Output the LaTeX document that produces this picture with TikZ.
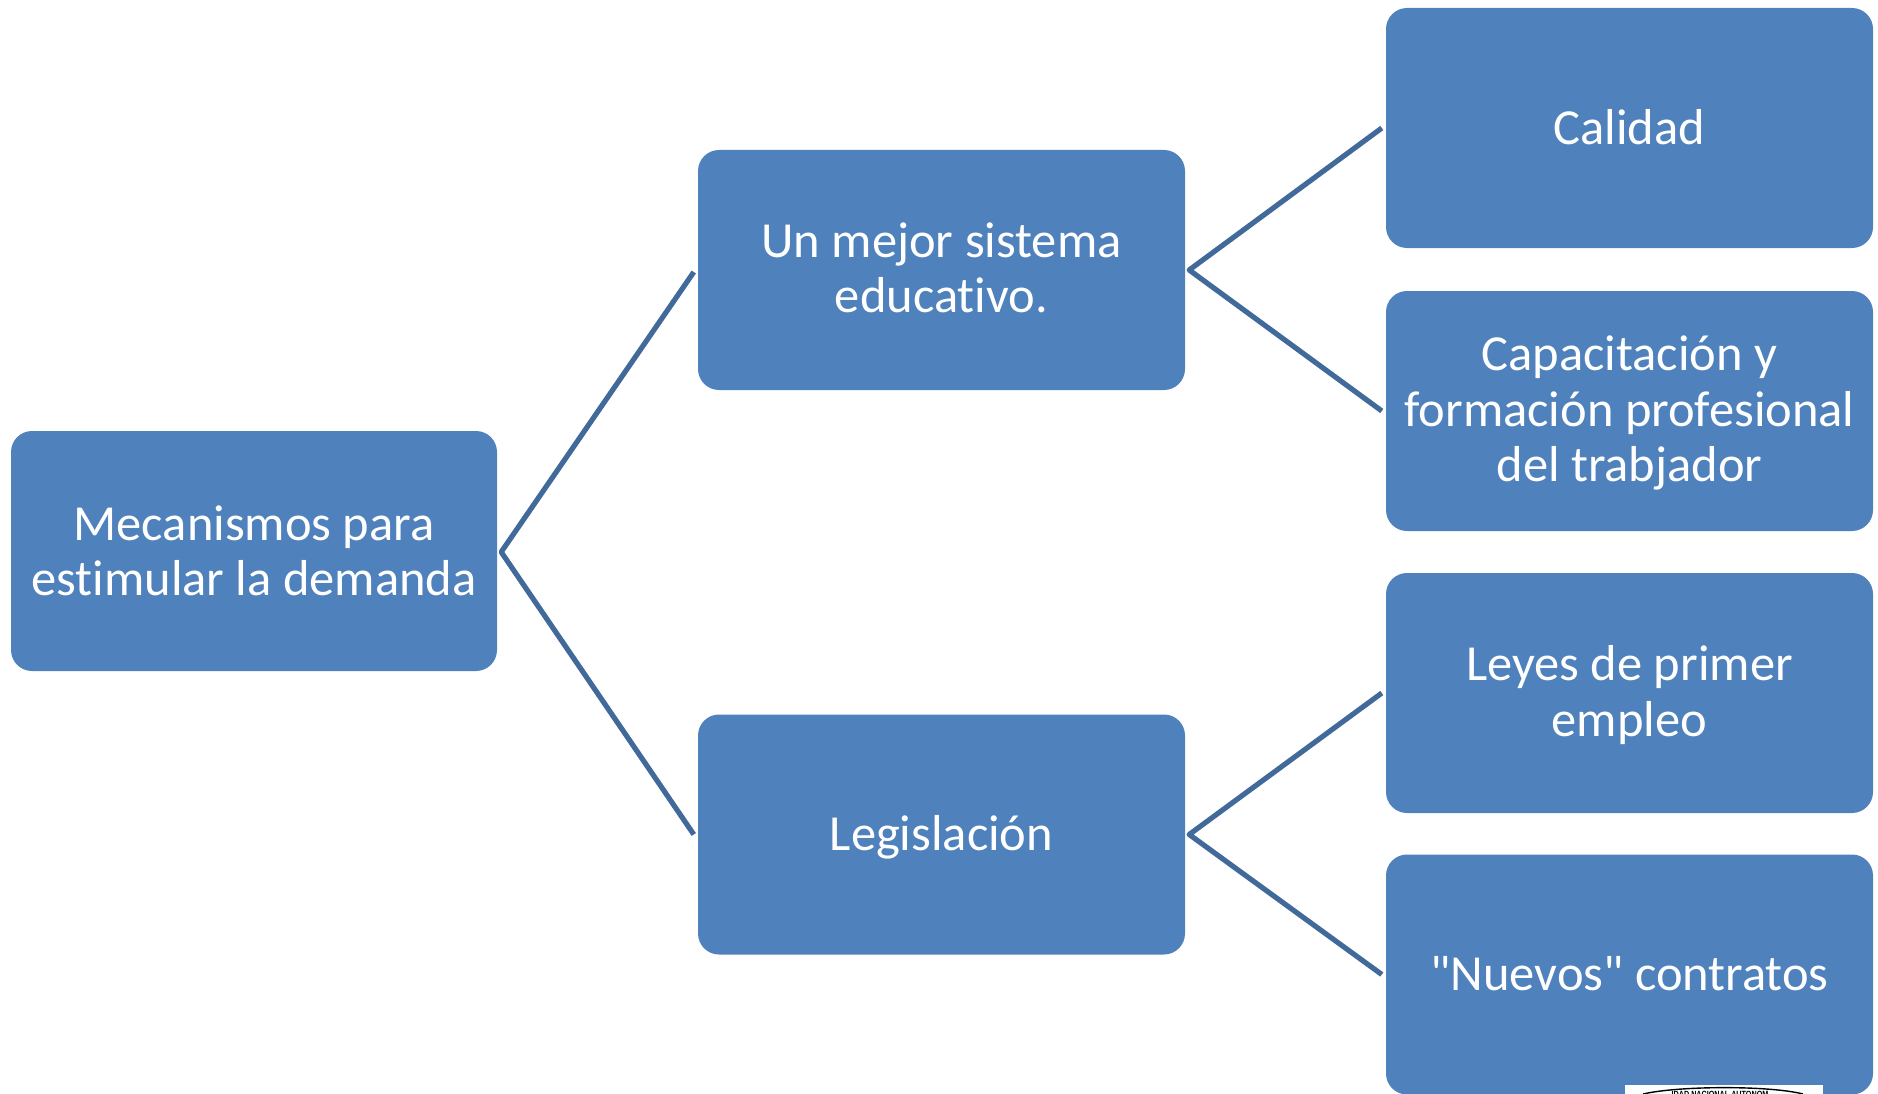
\documentclass[tikz,border=0pt]{standalone}
\usepackage{fontspec}
\newfontfamily\cardfont{Carlito}[Ligatures=NoCommon]
\setmainfont{Liberation Sans}
\definecolor{boxblue}{HTML}{4F81BD}
\definecolor{lineblue}{HTML}{41699A}
\newcommand{\lifted}[2]{\vbox{\hsize=480pt \centering #2\par\kern #1\relax}}
\tikzset{
  x=1pt,y=-1pt,
  card/.style={draw=none,fill=boxblue,rounded corners=21pt,minimum width=487pt,minimum height=240pt,inner sep=0pt,
    text=white,align=center,font=\cardfont\fontsize{50.5}{55.5}\selectfont},
  link/.style={draw=lineblue,line width=5.2pt,line join=round}
}
\begin{document}
\begin{tikzpicture}
\useasboundingbox (0,0) rectangle (1878,1094);
\node[card,minimum width=486pt] (root) at (254,551) {Mecanismos para\\estimular la demanda};
\node[card] (edu) at (941.5,270) {\lifted{4.8pt}{Un mejor sistema\\educativo.}};
\node[card] (leg) at (941.5,834.5) {\lifted{-4.8pt}{Legislación}};
\node[card] (cal) at (1629.5,128) {\lifted{2.4pt}{Calidad}};
\node[card] (cap) at (1629.5,411) {\lifted{-4pt}{Capacitación y\\formación profesional\\del trabjador}};
\node[card] (ley) at (1629.5,693) {\lifted{-4pt}{Leyes de primer\\empleo}};
\node[card] (nue) at (1629.5,974.5) {\lifted{2.4pt}{"Nuevos" contratos}};
\draw[link] ([xshift=-4pt,yshift=-2pt]edu.west) -- ([xshift=4pt,yshift=-1pt]root.east) -- ([xshift=-4pt]leg.west);
\draw[link] ([xshift=-4pt]cal.west) -- ([xshift=4pt]edu.east) -- ([xshift=-4pt]cap.west);
\draw[link] ([xshift=-4pt]ley.west) -- ([xshift=4pt]leg.east) -- ([xshift=-4pt]nue.west);
\fill[white] (1625,1085) rectangle (1823,1094);
\draw[black,line width=1.4pt] (1643,1094) .. controls (1680,1085.5) and (1770,1085.5) .. (1803,1094);
\begin{scope}
\clip (1625,1085) rectangle (1823,1094);
\node[font=\bfseries\fontsize{9}{9}\selectfont,text=black,inner sep=0pt,anchor=north,xscale=.8] (seal) at (1720,1091) {IDAD NACIONAL AUTONOM};
\end{scope}
\end{tikzpicture}
\end{document}
